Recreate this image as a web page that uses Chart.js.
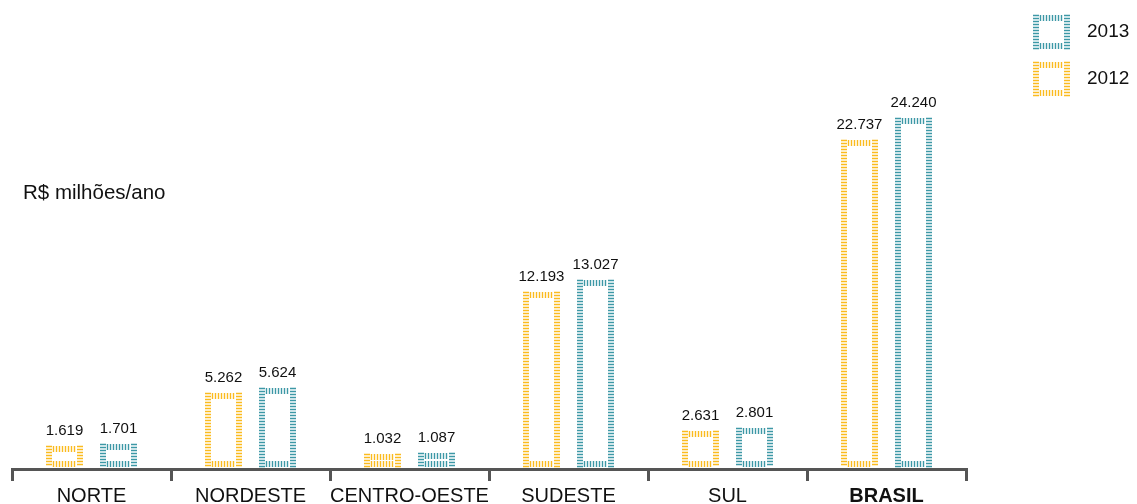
<!DOCTYPE html>
<html lang="pt-BR">
<head>
<meta charset="utf-8">
<title>R$ milhões/ano por região</title>
<script src="https://cdn.jsdelivr.net/npm/chart.js@4.4.1/dist/chart.umd.min.js"></script>
<style>
  html, body { margin: 0; padding: 0; background: #ffffff; }
  #wrap { width: 1137px; height: 504px; }
</style>
</head>
<body>
<div id="wrap"><canvas id="chart" width="1137" height="504"></canvas></div>
<script>
// Regions and yearly totals (R$ milhões/ano)
const categories = ['NORTE', 'NORDESTE', 'CENTRO-OESTE', 'SUDESTE', 'SUL', 'BRASIL'];
const values2012 = [1619, 5262, 1032, 12193, 2631, 22737];
const values2013 = [1701, 5624, 1087, 13027, 2801, 24240];
const seriesNames = ['2012', '2013'];
const unitLabel = 'R$ milhões/ano';

const FONT = '"Liberation Sans", Arial, Helvetica, sans-serif';
const YELLOW = '#fbbb1f';
const TEAL = '#3d98a6';

// Brazilian thousands separator: 12193 -> "12.193"
function fmt(v) {
  return String(Math.round(v)).replace(/\B(?=(\d{3})+(?!\d))/g, '.');
}

// Outline a rectangle with a hatched border: short ticks perpendicular to each edge
function hatchRect(ctx, x0, y0, x1, y1, color) {
  const t = 6, step = 3;
  ctx.save();
  ctx.strokeStyle = color;
  ctx.lineWidth = 1.4;
  ctx.beginPath();
  for (let y = y0 + 0.5; y <= y1; y += step) {
    ctx.moveTo(x0, y); ctx.lineTo(x0 + t, y);
    ctx.moveTo(x1 - t, y); ctx.lineTo(x1, y);
  }
  for (let x = x0 + t + 1.5; x <= x1 - t; x += step) {
    ctx.moveTo(x, y0); ctx.lineTo(x, y0 + t);
    ctx.moveTo(x, y1 - t); ctx.lineTo(x, y1);
  }
  ctx.stroke();
  ctx.restore();
}

const hatchedBars = {
  id: 'hatchedBars',
  afterDatasetsDraw(chart) {
    const ctx = chart.ctx;
    chart.data.datasets.forEach((ds, di) => {
      const meta = chart.getDatasetMeta(di);
      meta.data.forEach((el, i) => {
        const p = el.getProps(['x', 'y', 'base', 'width'], true);
        const x0 = Math.round(p.x - p.width / 2);
        const x1 = Math.round(p.x + p.width / 2);
        const y0 = Math.round(p.y);
        const y1 = Math.round(p.base) - 2;
        hatchRect(ctx, x0, y0, x1, y1, ds.hatchColor);
        ctx.save();
        ctx.fillStyle = '#111111';
        ctx.font = '15px ' + FONT;
        ctx.textAlign = 'center';
        ctx.textBaseline = 'alphabetic';
        ctx.fillText(fmt(ds.data[i]), p.x, y0 - 11);
        ctx.restore();
      });
    });
  },
  afterDraw(chart) {
    const ctx = chart.ctx;
    ctx.save();
    // unit caption
    ctx.fillStyle = '#111111';
    ctx.font = '20.5px ' + FONT;
    ctx.textAlign = 'left';
    ctx.textBaseline = 'alphabetic';
    ctx.fillText(unitLabel, 23, 199);
    // legend, latest year on top
    const items = chart.data.datasets.slice().reverse();
    items.forEach((ds, k) => {
      const top = 15 + k * 47;
      hatchRect(ctx, 1033, top, 1070, top + 34, ds.hatchColor);
      ctx.fillStyle = '#111111';
      ctx.font = '19px ' + FONT;
      ctx.fillText(ds.label, 1087, top + 22);
    });
    ctx.restore();
  }
};

new Chart(document.getElementById('chart'), {
  type: 'bar',
  data: {
    labels: categories,
    datasets: [
      { label: seriesNames[0], data: values2012, hatchColor: YELLOW,
        backgroundColor: 'rgba(0,0,0,0)', borderWidth: 0 },
      { label: seriesNames[1], data: values2013, hatchColor: TEAL,
        backgroundColor: 'rgba(0,0,0,0)', borderWidth: 0 }
    ]
  },
  options: {
    responsive: false,
    animation: false,
    devicePixelRatio: 1,
    layout: { padding: { left: 12, right: 171, top: 20, bottom: 0 } },
    datasets: { bar: { categoryPercentage: 0.68, barPercentage: 0.69 } },
    scales: {
      x: {
        grid: { offset: true, drawOnChartArea: false, drawTicks: true, tickLength: 12, color: '#555555', lineWidth: 3 },
        border: { display: true, color: '#555555', width: 3 },
        ticks: {
          color: '#111111',
          padding: 5,
          maxRotation: 0,
          autoSkip: false,
          font: (c) => ({ family: FONT, size: 20, lineHeight: 1, weight: c.index === 5 ? 'bold' : 'normal' })
        },
        afterFit: (s) => { s.height = 35; }
      },
      y: { display: false, min: 0, max: 31000 }
    },
    plugins: { legend: { display: false }, tooltip: { enabled: false } }
  },
  plugins: [hatchedBars]
});
</script>
</body>
</html>
